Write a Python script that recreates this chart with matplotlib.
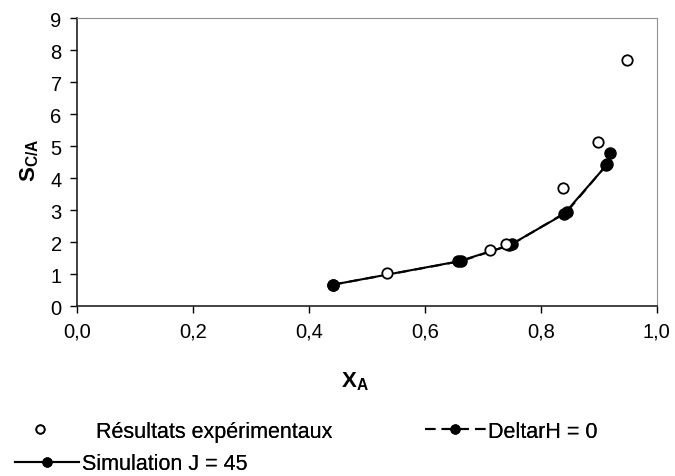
import matplotlib
matplotlib.use('Agg')
from matplotlib import pyplot as plt

# experimental points
exp_x = [0.534, 0.713, 0.740, 0.839, 0.898, 0.948]
exp_y = [1.05, 1.76, 1.95, 3.69, 5.13, 7.70]

# simulation J = 45
sim_x = [0.441, 0.658, 0.746, 0.840, 0.913, 0.919]
sim_y = [0.67, 1.40, 1.90, 2.88, 4.40, 4.78]

# DeltarH = 0
dh_x = [0.441, 0.663, 0.750, 0.845, 0.915]
dh_y = [0.67, 1.41, 1.93, 2.95, 4.45]

x_ticks = [0.0, 0.2, 0.4, 0.6, 0.8, 1.0]
x_labels = ['0,0', '0,2', '0,4', '0,6', '0,8', '1,0']
y_ticks = list(range(10))

plt.rcParams['font.family'] = ['Liberation Sans', 'DejaVu Sans']
plt.rcParams['mathtext.fontset'] = 'custom'
plt.rcParams['mathtext.rm'] = 'Liberation Sans'
plt.rcParams['mathtext.bf'] = 'Liberation Sans:bold'


def add_legend_item(fig, handle, label, x, y, hlen, pad):
    """one legend entry placed by hand, like the excel layout"""
    leg = fig.legend([handle], [label], frameon=False, fontsize=15.5,
                     loc='center left', bbox_to_anchor=(x, y),
                     borderpad=0, borderaxespad=0,
                     handlelength=hlen, handletextpad=pad, markerscale=0.8)
    fig.add_artist(leg)


def main():
    fig = plt.figure(figsize=(6.75, 4.77), dpi=100)
    ax = fig.add_axes([0.114, 0.356, 0.859, 0.604])

    h_exp, = ax.plot(exp_x, exp_y, linestyle='none', marker='o', markersize=7.5,
                     markerfacecolor='white', markeredgecolor='black', markeredgewidth=1.3,
                     zorder=4)
    h_dh, = ax.plot(dh_x, dh_y, linestyle=(0, (5, 3)), color='black', linewidth=1.5,
                    marker='o', markersize=8, zorder=3)
    h_sim, = ax.plot(sim_x, sim_y, linestyle='-', color='black', linewidth=1.5,
                     marker='o', markersize=8, zorder=3)

    ax.set_xlim(0, 1)
    ax.set_ylim(0, 9)
    ax.set_xticks(x_ticks)
    ax.set_xticklabels(x_labels)
    ax.set_yticks(y_ticks)
    ax.tick_params(direction='out', length=5, width=1, labelsize=14.5, pad=6)

    for side in ['top', 'right']:
        ax.spines[side].set_color('#909090')
    for side in ['left', 'bottom']:
        ax.spines[side].set_color('#222222')
        ax.spines[side].set_linewidth(1.2)

    ax.set_xlabel(r'$\mathbf{X_A}$', fontsize=16)
    ax.set_ylabel(r'$\mathbf{S_{C/A}}$', fontsize=16)
    ax.xaxis.set_label_coords(0.48, -0.22)
    ax.yaxis.set_label_coords(-0.062, 0.51)

    # legend below the plot, placed entry by entry
    add_legend_item(fig, h_exp, 'Résultats expérimentaux', 0.012, 0.094, 3.0, 1.1)
    add_legend_item(fig, h_dh, 'DeltarH = 0', 0.630, 0.094, 2.8, 0.1)
    add_legend_item(fig, h_sim, 'Simulation J = 45', 0.022, 0.026, 3.0, 0.1)

    fig.savefig('out.png', dpi=100)


if __name__ == '__main__':
    main()
